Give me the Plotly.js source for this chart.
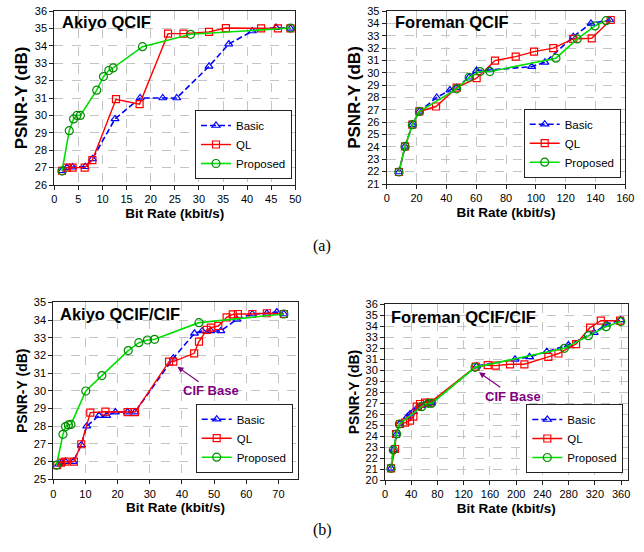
<!DOCTYPE html>
<html><head><meta charset="utf-8">
<script src="https://cdn.plot.ly/plotly-3.0.1.min.js"></script>
<style>body{margin:0;background:#fff}#c{width:644px;height:552px}</style>
</head><body><div id="c"></div>
<script>
// ---- Akiyo QCIF ----
const akiyoQ_basic_x = [1.6, 2.6, 3.8, 6.4, 7.9, 12.6, 17.8, 22.5, 25.4, 32.1, 36.2, 41.1, 46.0, 49.0];
const akiyoQ_basic_y = [26.82, 27.0, 27.03, 27.05, 27.5, 29.8, 31.0, 31.0, 31.0, 32.82, 34.1, 34.85, 35.05, 35.0];
const akiyoQ_ql_x = [1.6, 2.6, 3.8, 6.3, 7.9, 12.8, 17.7, 23.6, 26.8, 32.1, 35.6, 42.9, 46.4, 49.0];
const akiyoQ_ql_y = [26.82, 27.0, 27.0, 27.0, 27.43, 30.93, 30.65, 34.7, 34.7, 34.8, 35.02, 35.0, 35.0, 35.0];
const akiyoQ_prop_x = [1.6, 3.1, 4.0, 4.7, 5.4, 8.8, 10.2, 11.3, 12.2, 18.3, 28.3, 49.0];
const akiyoQ_prop_y = [26.8, 29.12, 29.8, 30.0, 30.0, 31.45, 32.23, 32.58, 32.73, 33.95, 34.66, 35.02];

// ---- Foreman QCIF ----
const foreQ_basic_x = [8.2, 12.3, 17.2, 21.9, 33.5, 42.4, 46.9, 55.3, 60.3, 69.2, 97.2, 106.1, 125.1, 137.0, 149.7];
const foreQ_basic_y = [21.97, 24.04, 25.8, 26.87, 28.0, 28.6, 28.8, 29.64, 30.18, 30.23, 30.5, 30.85, 32.92, 34.0, 34.27];
const foreQ_ql_x = [8.2, 12.3, 17.2, 21.9, 33.1, 46.9, 60.3, 72.6, 86.5, 98.8, 111.7, 125.1, 137.5, 150.2];
const foreQ_ql_y = [21.97, 24.04, 25.8, 26.87, 27.27, 28.8, 29.56, 30.99, 31.31, 31.71, 31.99, 32.74, 32.79, 34.27];
const foreQ_prop_x = [8.2, 12.3, 17.2, 21.9, 46.9, 55.3, 62.6, 69.2, 113.5, 127.8, 139.7, 147.1];
const foreQ_prop_y = [21.97, 24.04, 25.8, 26.87, 28.7, 29.64, 30.1, 30.1, 31.18, 32.74, 33.79, 34.22];

// ---- Akiyo QCIF/CIF ----
const akiyoC_basic_x = [1.6, 2.6, 3.8, 6.2, 8.7, 10.4, 14.2, 16.6, 19.3, 23.1, 25.4, 37.3, 43.9, 46.3, 49.0, 52.1, 57.1, 61.9, 66.4, 69.5, 71.7];
const akiyoC_basic_y = [25.85, 25.96, 26.0, 26.0, 26.94, 28.0, 28.6, 28.6, 28.8, 28.8, 28.8, 31.84, 33.25, 33.38, 33.38, 33.38, 34.04, 34.34, 34.38, 34.45, 34.34];
const akiyoC_ql_x = [1.2, 2.4, 3.8, 6.4, 8.7, 11.5, 16.2, 23.1, 25.4, 36.0, 37.3, 43.8, 45.3, 47.7, 49.0, 51.3, 53.9, 55.8, 57.4, 61.9, 66.4, 71.7];
const akiyoC_ql_y = [25.8, 25.94, 26.0, 26.0, 26.98, 28.77, 28.82, 28.8, 28.8, 31.65, 31.65, 32.12, 32.78, 33.44, 33.57, 33.66, 34.15, 34.32, 34.34, 34.34, 34.38, 34.34];
const akiyoC_prop_x = [1.0, 3.0, 3.8, 4.7, 5.5, 10.1, 15.1, 23.3, 26.6, 29.3, 31.5, 45.3, 71.7];
const akiyoC_prop_y = [25.8, 27.54, 27.98, 28.07, 28.1, 29.99, 30.86, 32.27, 32.72, 32.87, 32.91, 33.85, 34.34];

// ---- Foreman QCIF/CIF ----
const foreC_basic_x = [9.2, 12.7, 17.8, 21.9, 34.1, 38.1, 43.2, 49.8, 55.9, 63.6, 71.2, 139.8, 198.3, 220.4, 246.6, 279.6, 318.8, 338.0, 359.4];
const foreC_basic_y = [21.06, 22.73, 24.18, 25.09, 25.76, 26.0, 26.21, 26.6, 26.76, 26.97, 27.03, 30.36, 30.97, 31.2, 31.67, 32.27, 33.39, 34.15, 34.55];
const foreC_ql_x = [9.2, 15.3, 16.8, 22.9, 30.5, 38.1, 43.2, 48.3, 53.4, 61.0, 68.6, 138.3, 156.6, 168.8, 190.6, 212.5, 249.0, 264.4, 291.3, 312.7, 329.0, 358.4];
const foreC_ql_y = [21.06, 22.82, 24.18, 25.09, 25.21, 25.39, 25.76, 26.67, 26.91, 27.03, 27.03, 30.3, 30.45, 30.4, 30.52, 30.52, 31.2, 31.5, 32.36, 33.85, 34.48, 34.48];
const foreC_prop_x = [9.2, 12.7, 17.8, 21.9, 55.9, 66.1, 71.2, 137.3, 273.5, 310.1, 337.1, 359.4];
const foreC_prop_y = [21.06, 22.73, 24.18, 25.09, 26.67, 26.97, 26.97, 30.24, 31.97, 33.12, 33.94, 34.4];

const seriesNames = ['Basic', 'QL', 'Proposed'];
const panelTitles = ['Akiyo QCIF', 'Foreman QCIF', 'Akiyo QCIF/CIF', 'Foreman QCIF/CIF'];
const captions = ['(a)', '(b)'];
const xTitle = 'Bit Rate (kbit/s)';
const yTitle = 'PSNR-Y (dB)';
const annotText = 'CIF Base';

const panels = [
  [[akiyoQ_basic_x, akiyoQ_basic_y], [akiyoQ_ql_x, akiyoQ_ql_y], [akiyoQ_prop_x, akiyoQ_prop_y]],
  [[foreQ_basic_x, foreQ_basic_y], [foreQ_ql_x, foreQ_ql_y], [foreQ_prop_x, foreQ_prop_y]],
  [[akiyoC_basic_x, akiyoC_basic_y], [akiyoC_ql_x, akiyoC_ql_y], [akiyoC_prop_x, akiyoC_prop_y]],
  [[foreC_basic_x, foreC_basic_y], [foreC_ql_x, foreC_ql_y], [foreC_prop_x, foreC_prop_y]]
];

const styles = [
  {line: {color: '#0000FF', width: 1.6, dash: '6px,3px'}, marker: {symbol: 'triangle-up-open', size: 7, color: '#0000FF', line: {width: 1.2}}},
  {line: {color: '#FF0000', width: 1.4}, marker: {symbol: 'square-open', size: 7, color: '#FF0000', line: {width: 1.2}}},
  {line: {color: '#00E000', width: 1.6}, marker: {symbol: 'circle-open', size: 8, color: '#008A00', line: {width: 1.2}}}
];

const traces = [];
panels.forEach((p, i) => {
  const sfx = i === 0 ? '' : String(i + 1);
  p.forEach((s, j) => {
    traces.push({
      x: s[0], y: s[1], name: seriesNames[j], type: 'scatter', mode: 'lines+markers',
      xaxis: 'x' + sfx, yaxis: 'y' + sfx, legend: 'legend' + sfx,
      line: styles[j].line, marker: styles[j].marker, cliponaxis: false
    });
  });
});

const W = 644, H = 552;
const boxes = [ // pixel boxes: left, right, top, bottom
  [54.3, 295.3, 11, 185],
  [386.7, 625.3, 11, 184],
  [53.3, 297.7, 302.3, 479.3],
  [385, 627.7, 304, 480]
];
const xr = [[0, 50], [0, 160], [0, 76], [0, 370]];
const xd = [5, 20, 10, 40];
const yr = [[26, 36], [21, 35], [25, 35], [20, 36]];
const yTitleSize = [17, 17, 14, 14];

const font = 'Liberation Sans, Arial, sans-serif';
const layout = {
  width: W, height: H, margin: {l: 0, r: 0, t: 0, b: 0},
  paper_bgcolor: '#fff', plot_bgcolor: '#fff',
  font: {family: font, size: 11, color: '#000'},
  annotations: [], showlegend: true
};
boxes.forEach((b, i) => {
  const sfx = i === 0 ? '' : String(i + 1);
  const ax = {
    domain: [b[0] / W, b[1] / W], anchor: 'y' + sfx, range: xr[i], dtick: xd[i], tick0: 0,
    showline: true, mirror: true, linecolor: '#222', linewidth: 1,
    ticks: 'outside', ticklen: 4, tickcolor: '#222', showgrid: true, gridcolor: '#c4c4c4', griddash: 'dash', gridwidth: 1,
    zeroline: false, automargin: false, tickfont: {size: 11, family: font},
    title: {text: '<b>' + xTitle + '</b>', font: {size: 13.5, family: font}, standoff: 4}
  };
  const ay = {
    domain: [1 - b[3] / H, 1 - b[2] / H], anchor: 'x' + sfx, range: yr[i], dtick: 1, tick0: 0,
    showline: true, mirror: true, linecolor: '#222', linewidth: 1,
    ticks: 'outside', ticklen: 4, tickcolor: '#222', showgrid: true, gridcolor: '#c4c4c4', griddash: 'dash', gridwidth: 1,
    zeroline: false, automargin: false, tickfont: {size: 11, family: font},
    title: {text: '<b>' + yTitle + '</b>', font: {size: yTitleSize[i], family: font}, standoff: 2}
  };
  layout['xaxis' + sfx] = ax;
  layout['yaxis' + sfx] = ay;
  layout['legend' + sfx] = {
    x: [292, 620.7, 292.7, 623.3][i] / W, y: 1 - [179, 177.7, 472.7, 473][i] / H,
    xanchor: 'right', yanchor: 'bottom', bgcolor: '#fff', bordercolor: '#222', borderwidth: 1,
    font: {size: 11.5, family: font}, itemwidth: 30, tracegroupgap: 0
  };
  layout.annotations.push({
    xref: 'paper', yref: 'paper', x: [60, 392.7, 58.3, 389.3][i] / W, y: 1 - [22, 21.7, 314, 316.7][i] / H,
    xanchor: 'left', yanchor: 'middle', showarrow: false,
    text: '<b>' + panelTitles[i] + '</b>', font: {size: 16.5, family: font, color: '#000'}
  });
});
// CIF Base annotations
layout.annotations.push({
  xref: 'x3', yref: 'y3', x: 38.6, y: 31.36, ax: 34, ay: 24, text: '<b>' + annotText + '</b>',
  font: {size: 13, family: font, color: '#800080'}, showarrow: true, arrowcolor: '#800080',
  arrowhead: 2, arrowsize: 1, arrowwidth: 1.2
});
layout.annotations.push({
  xref: 'x4', yref: 'y4', x: 143.3, y: 29.79, ax: 34, ay: 24, text: '<b>' + annotText + '</b>',
  font: {size: 13, family: font, color: '#800080'}, showarrow: true, arrowcolor: '#800080',
  arrowhead: 2, arrowsize: 1, arrowwidth: 1.2
});
// captions
layout.annotations.push({xref: 'paper', yref: 'paper', x: 322 / W, y: 1 - 246 / H, showarrow: false,
  text: captions[0], font: {size: 16, family: 'Liberation Serif, Times New Roman, serif'}});
layout.annotations.push({xref: 'paper', yref: 'paper', x: 322 / W, y: 1 - 541 / H, showarrow: false,
  text: captions[1], font: {size: 16, family: 'Liberation Serif, Times New Roman, serif'}});

Plotly.newPlot('c', traces, layout, {staticPlot: true, displayModeBar: false});
</script></body></html>
